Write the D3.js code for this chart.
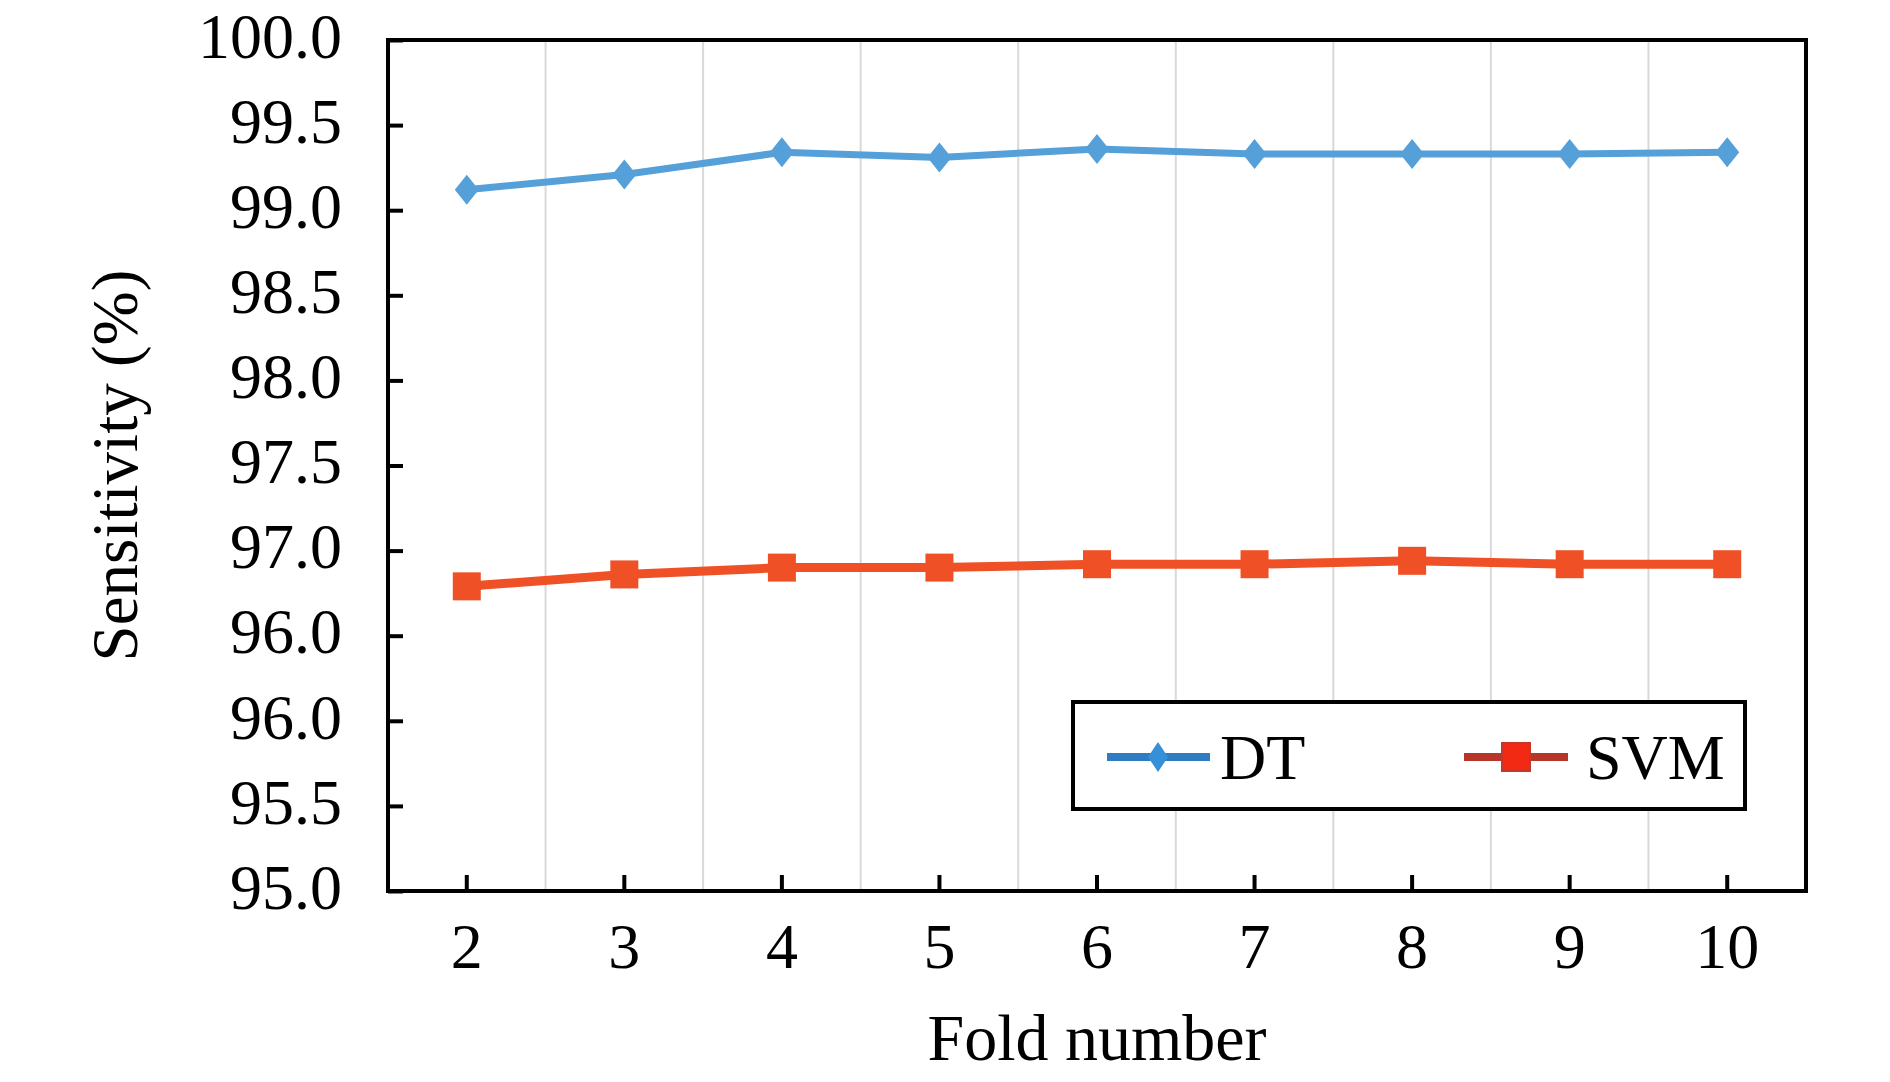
<!DOCTYPE html>
<html lang="en">
<head>
    <meta charset="UTF-8">
    <title>Sensitivity by fold</title>
    <script src="https://cdn.jsdelivr.net/npm/d3@7"></script>
    <style>
        body { margin: 0; background: #fff; }
        text { font-family: "Liberation Serif", "Times New Roman", serif; fill: #000; }
    </style>
</head>
<body>
<script>

    // data
    var folds = [2, 3, 4, 5, 6, 7, 8, 9, 10];
    var dtValues  = [99.12, 99.21, 99.34, 99.31, 99.36, 99.33, 99.33, 99.33, 99.34];
    var svmValues = [96.79, 96.86, 96.90, 96.90, 96.92, 96.92, 96.94, 96.92, 96.92];
    var yTicks = [95.0, 95.5, 96.0, 96.5, 97.0, 97.5, 98.0, 98.5, 99.0, 99.5, 100.0];
    var yTickLabels = ["95.0", "95.5", "96.0", "96.0", "97.0", "97.5", "98.0", "98.5", "99.0", "99.5", "100.0"];

    var width = 1890,
        height = 1082;
    var margin = {top: 40, right: 84, bottom: 191, left: 388};
    var plotW = width - margin.left - margin.right,
        plotH = height - margin.top - margin.bottom;

    var svg = d3.select("body").append("svg")
        .attr("width", width)
        .attr("height", height);
    var g = svg.append("g")
        .attr("transform", "translate(" + margin.left + "," + margin.top + ")");

    var x = d3.scaleBand()
        .domain(folds)
        .range([0, plotW])
        .padding(0);
    var y = d3.scaleLinear()
        .domain([95, 100])
        .range([plotH, 0]);
    var cx = function(d) { return x(d) + x.bandwidth() / 2; };

    // vertical gridlines between categories
    g.append("g").selectAll("line")
        .data(folds.slice(1))
        .enter().append("line")
        .attr("x1", function(d) { return x(d); })
        .attr("x2", function(d) { return x(d); })
        .attr("y1", 0)
        .attr("y2", plotH)
        .attr("stroke", "#d9d9d9")
        .attr("stroke-width", 2);

    // axes, ticks pointing inside
    var yAxis = g.append("g")
        .call(d3.axisLeft(y)
            .tickValues(yTicks)
            .tickFormat(function(d, i) { return yTickLabels[i]; })
            .tickSizeInner(-15)
            .tickSizeOuter(0)
            .tickPadding(46));
    var xAxis = g.append("g")
        .attr("transform", "translate(0," + plotH + ")")
        .call(d3.axisBottom(x)
            .tickSizeInner(-16)
            .tickSizeOuter(0)
            .tickPadding(32));
    [yAxis, xAxis].forEach(function(a) {
        a.select(".domain").remove();
        a.selectAll(".tick line").attr("stroke", "#000").attr("stroke-width", 4);
        a.selectAll(".tick text").attr("font-size", 64).attr("font-family", "Liberation Serif");
    });
    yAxis.selectAll(".tick text").attr("dy", "0.27em");

    // frame
    g.append("rect")
        .attr("width", plotW)
        .attr("height", plotH)
        .attr("fill", "none")
        .attr("stroke", "#000")
        .attr("stroke-width", 4);

    var line = d3.line()
        .x(function(d, i) { return cx(folds[i]); })
        .y(function(d) { return y(d); });

    // DT series
    g.append("path")
        .datum(dtValues)
        .attr("d", line)
        .attr("fill", "none")
        .attr("stroke", "#56a0da")
        .attr("stroke-width", 7);
    g.append("g").selectAll("path")
        .data(dtValues)
        .enter().append("path")
        .attr("transform", function(d, i) { return "translate(" + cx(folds[i]) + "," + y(d) + ")"; })
        .attr("d", "M0,-15L12,0L0,15L-12,0Z")
        .attr("fill", "#56a0da");

    // SVM series
    g.append("path")
        .datum(svmValues)
        .attr("d", line)
        .attr("fill", "none")
        .attr("stroke", "#f05025")
        .attr("stroke-width", 9);
    g.append("g").selectAll("rect")
        .data(svmValues)
        .enter().append("rect")
        .attr("x", function(d, i) { return cx(folds[i]) - 14; })
        .attr("y", function(d) { return y(d) - 14; })
        .attr("width", 28)
        .attr("height", 28)
        .attr("fill", "#f05025");

    // legend
    var lg = svg.append("g").attr("transform", "translate(1073,702)");
    lg.append("rect")
        .attr("width", 672)
        .attr("height", 107)
        .attr("fill", "#fff")
        .attr("stroke", "#000")
        .attr("stroke-width", 4);
    lg.append("line")
        .attr("x1", 34).attr("x2", 137).attr("y1", 55).attr("y2", 55)
        .attr("stroke", "#2f7cc3").attr("stroke-width", 8);
    lg.append("path")
        .attr("transform", "translate(85,55)")
        .attr("d", "M0,-15L10,0L0,15L-10,0Z")
        .attr("fill", "#3590d8");
    lg.append("text")
        .attr("x", 147).attr("y", 77)
        .attr("font-size", 64)
        .text("DT");
    lg.append("line")
        .attr("x1", 391).attr("x2", 495).attr("y1", 55).attr("y2", 55)
        .attr("stroke", "#b8352a").attr("stroke-width", 8);
    lg.append("rect")
        .attr("x", 429).attr("y", 41).attr("width", 28).attr("height", 28)
        .attr("fill", "#f22a14")
        .attr("stroke", "#c0392b").attr("stroke-width", 2);
    lg.append("text")
        .attr("x", 513).attr("y", 77)
        .attr("font-size", 64)
        .text("SVM");

    // axis titles
    svg.append("text")
        .attr("x", margin.left + plotW / 2)
        .attr("y", 1060)
        .attr("text-anchor", "middle")
        .attr("font-size", 66)
        .text("Fold number");
    svg.append("text")
        .attr("transform", "translate(137," + (margin.top + plotH / 2) + ") rotate(-90)")
        .attr("text-anchor", "middle")
        .attr("font-size", 65)
        .text("Sensitivity (%)");

</script>
</body>
</html>
